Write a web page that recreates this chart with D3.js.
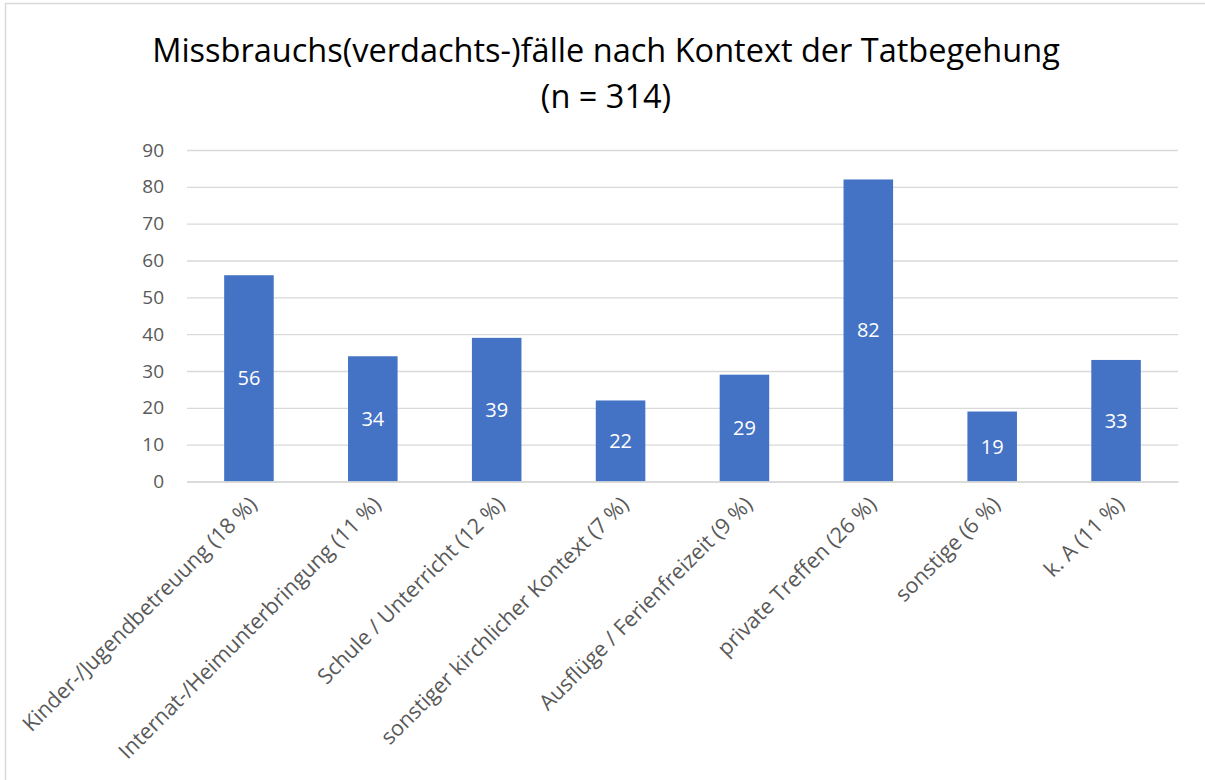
<!DOCTYPE html>
<html>
<head>
<meta charset="utf-8">
<script src="https://cdn.jsdelivr.net/npm/d3@7"></script>
<style>
  body { margin: 0; background: #fff; }
  text { font-family: "Open Sans", sans-serif; }
</style>
</head>
<body>
<div id="chart"></div>
<script>
// Chart data
const categories = [
  'Kinder-/Jugendbetreuung (18 %)',
  'Internat-/Heimunterbringung (11 %)',
  'Schule / Unterricht (12 %)',
  'sonstiger kirchlicher Kontext (7 %)',
  'Ausflüge / Ferienfreizeit (9 %)',
  'private Treffen (26 %)',
  'sonstige (6 %)',
  'k. A (11 %)'
]
const values = [56, 34, 39, 22, 29, 82, 19, 33]
const yTicks = [0, 10, 20, 30, 40, 50, 60, 70, 80, 90]
const titleLines = ['Missbrauchs(verdachts-)fälle nach Kontext der Tatbegehung', '(n = 314)']

// Canvas
const width = 1205,
  height = 780,
  plotLeft = 187,
  plotRight = 1178,
  plotTop = 150,
  plotBottom = 481.5

const svg = d3.select('#chart')
  .append('svg')
  .attr('width', width)
  .attr('height', height)

// outer frame (only left and top edges fall inside the picture)
svg.append('rect')
  .attr('x', 5.5).attr('y', 3.5)
  .attr('width', 1220).attr('height', 800)
  .attr('fill', '#fff')
  .attr('stroke', '#d9d9d9')
  .attr('stroke-width', 1.5)

// title
svg.append('g').selectAll('text')
  .data(titleLines)
  .enter()
  .append('text')
  .attr('x', 606)
  .attr('y', (d, i) => 62 + i * 46)
  .attr('text-anchor', 'middle')
  .attr('font-size', 32.5)
  .attr('fill', '#000')
  .text(d => d)

// scales
const x = d3.scaleBand()
  .domain(categories)
  .range([plotLeft, plotRight])
  .paddingInner(0.6)
  .paddingOuter(0.3)

const y = d3.scaleLinear()
  .domain([0, 90])
  .range([plotBottom, plotTop])

// gridlines
svg.append('g')
  .attr('transform', `translate(${plotLeft},0)`)
  .call(d3.axisLeft(y).tickValues(yTicks).tickSize(-(plotRight - plotLeft)).tickFormat(''))
  .call(g => g.select('.domain').remove())
  .call(g => g.selectAll('line').attr('stroke', '#d9d9d9').attr('stroke-width', 1.3))

// y tick labels
svg.append('g')
  .attr('transform', `translate(${plotLeft},0)`)
  .call(d3.axisLeft(y).tickValues(yTicks).tickSize(0).tickPadding(23))
  .call(g => g.select('.domain').remove())
  .call(g => g.selectAll('text')
    .attr('font-size', 19)
    .attr('font-family', '"Open Sans", sans-serif')
    .attr('fill', '#595959'))

// bars
svg.append('g').selectAll('rect')
  .data(values)
  .enter()
  .append('rect')
  .attr('x', (d, i) => x(categories[i]))
  .attr('y', d => y(d))
  .attr('width', x.bandwidth())
  .attr('height', d => plotBottom - y(d))
  .attr('fill', '#4472c4')

// value labels inside bars
svg.append('g').selectAll('text')
  .data(values)
  .enter()
  .append('text')
  .attr('x', (d, i) => x(categories[i]) + x.bandwidth() / 2)
  .attr('y', d => (y(d) + plotBottom) / 2)
  .attr('dy', '0.35em')
  .attr('text-anchor', 'middle')
  .attr('font-size', 20)
  .attr('fill', '#fff')
  .text(d => d)

// x axis line and rotated labels
svg.append('g')
  .attr('transform', `translate(0,${plotBottom})`)
  .call(d3.axisBottom(x).tickSize(0).tickPadding(0))
  .call(g => g.select('.domain').attr('stroke', '#d9d9d9').attr('stroke-width', 1.3))
  .call(g => g.selectAll('text')
    .attr('font-size', 21.5)
    .attr('font-family', '"Open Sans", sans-serif')
    .attr('fill', '#595959')
    .attr('text-anchor', 'end')
    .attr('dy', '0.35em')
    .attr('transform', 'translate(4,19) rotate(-45)'))
</script>
</body>
</html>
